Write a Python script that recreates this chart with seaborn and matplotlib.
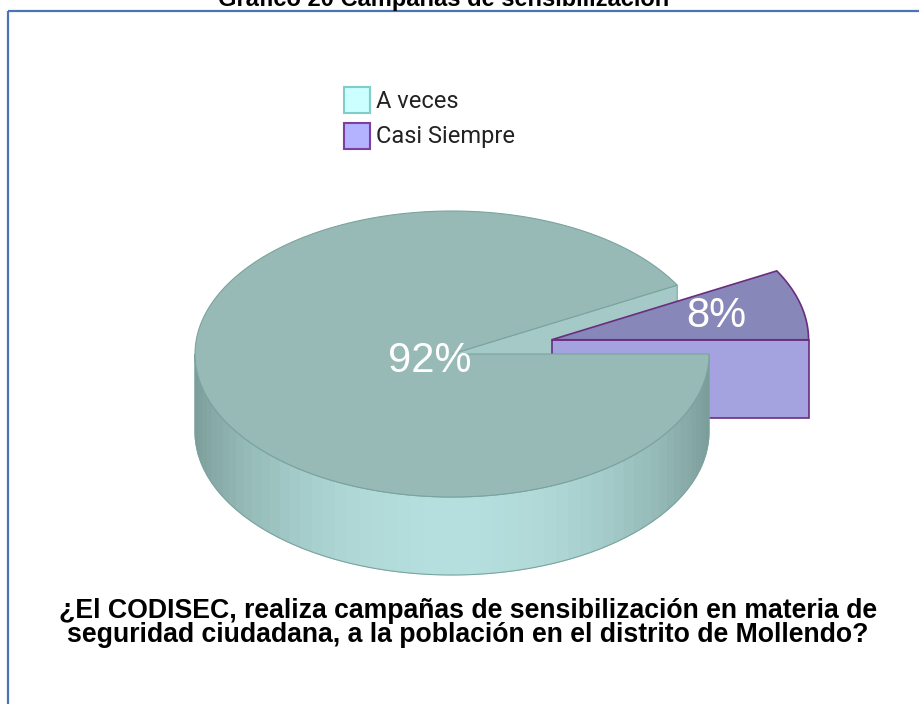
import numpy as np
import matplotlib.pyplot as plt
import seaborn as sns
from matplotlib.patches import Polygon, Rectangle

# Data
labels = ['A veces', 'Casi Siempre']
values = [92, 8]
pct_labels = ['92%', '8%']
title = 'Gráfico 20 Campañas de sensibilización'
question = ('¿El CODISEC, realiza campañas de sensibilización en materia de\n'
            'seguridad ciudadana, a la población en el distrito de Mollendo?')

sns.set_theme(style='white')
plt.rcParams['font.family'] = ['Liberation Sans', 'DejaVu Sans']

fig = plt.figure(figsize=(9.2, 7.04), dpi=100)
ax = fig.add_axes([0, 0, 1, 1])
ax.set_xlim(0, 920)
ax.set_ylim(704, 0)
ax.axis('off')

# pie geometry (pixel space of the axes)
cx, cy, rx, ry, depth = 452, 354, 257, 143, 78
explode = [0.0, 0.40]

# slice angles: counterclockwise from 0 deg, smallest category first
edges = np.cumsum([0] + values[::-1]) / sum(values) * 360
spans = {labels[1]: (edges[0], edges[1]), labels[0]: (edges[1], edges[2])}


def pt(theta, ox, oy, dz=0.0):
    t = np.radians(theta)
    return ox + rx * np.cos(t), oy - ry * np.sin(t) + dz


def arc(a0, a1, ox, oy, dz=0.0, n=200):
    th = np.linspace(a0, a1, n)
    return [pt(t, ox, oy, dz) for t in th]


# colours
main_top = '#97bab7'
main_edge = '#7ba49f'
main_cut = '#a4c9c6'
wall_cols = sns.blend_palette(['#7a9b98', '#b5dfde'], 60)
purp_top = '#8887b9'
purp_cut = '#a5a3df'
purp_edge = '#6a2d80'

# main slice: inner cut face visible in the gap
a0, a1 = spans[labels[0]]
c0 = (cx, cy)
e0 = pt(a0, cx, cy)
ax.add_patch(Polygon([c0, e0, (e0[0], e0[1] + depth), (cx, cy + depth)],
                     closed=True, fc=main_cut, ec=main_edge, lw=0.8, zorder=1))

# exploded slice
b0, b1 = spans[labels[1]]
mid = np.radians((b0 + b1) / 2)
ex = cx + explode[1] * rx * np.cos(mid)
ey = cy - explode[1] * ry * np.sin(mid)
f0 = pt(b0, ex, ey)
ax.add_patch(Polygon([(ex, ey), f0, (f0[0], f0[1] + depth), (ex, ey + depth)],
                     closed=True, fc=purp_cut, ec=purp_edge, lw=1.2, zorder=2))
ax.add_patch(Polygon([(ex, ey)] + arc(b0, b1, ex, ey), closed=True,
                     fc=purp_top, ec=purp_edge, lw=1.2, zorder=3))

# main slice: outer wall (front half), shaded strips
th = np.linspace(180, 360, 61)
for i in range(len(th) - 1):
    t_mid = (th[i] + th[i + 1]) / 2
    shade = -np.sin(np.radians(t_mid))
    col = wall_cols[int(round(shade ** 1.6 * (len(wall_cols) - 1)))]
    p1, p2 = pt(th[i], cx, cy), pt(th[i + 1], cx, cy)
    ax.add_patch(Polygon([p1, p2, (p2[0], p2[1] + depth), (p1[0], p1[1] + depth)],
                         closed=True, fc=col, ec=col, lw=0.6, zorder=4))
wall_outline = arc(180, 360, cx, cy) + arc(360, 180, cx, cy, depth)
ax.add_patch(Polygon(wall_outline, closed=True, fill=False, ec=main_edge,
                     lw=0.8, zorder=5))

# main slice top face
ax.add_patch(Polygon([c0] + arc(a0, a1, cx, cy), closed=True,
                     fc=main_top, ec=main_edge, lw=0.8, zorder=6))

# percentage labels
ax.text(cx - 22, cy + 7, pct_labels[0], color='white', fontsize=30,
        ha='center', va='center', zorder=7)
lx = ex + 0.66 * rx * np.cos(mid)
ly = ey - 0.66 * ry * np.sin(mid)
ax.text(lx, ly, pct_labels[1], color='white', fontsize=30,
        ha='center', va='center', zorder=7)

# legend
leg_face = ['#ccffff', '#b3b3ff']
leg_edge = ['#7fcfc8', '#7f3f9f']
for i, lab in enumerate(labels):
    y0 = 87 + i * 36
    ax.add_patch(Rectangle((344, y0), 26, 26, fc=leg_face[i], ec=leg_edge[i],
                           lw=1.5, zorder=7))
    ax.text(376, y0 + 14, lab, fontsize=17, family=['Roboto', 'DejaVu Sans'],
            color='#222222', ha='left', va='center', zorder=7)

# frame and titles (the title is clipped at the top edge, as in the source)
ax.add_patch(Rectangle((8.5, 10.5), 930, 720, fill=False, ec='#4a74b5',
                       lw=1.6, zorder=8))
ax.text(444, 6, title, fontsize=17, fontweight='bold', ha='center',
        va='baseline', color='black', zorder=8)
ax.text(468, 623, question, fontsize=19.2, fontweight='bold',
        ha='center', va='center', linespacing=0.9, color='black', zorder=8)

fig.savefig('out.png', dpi=100)
